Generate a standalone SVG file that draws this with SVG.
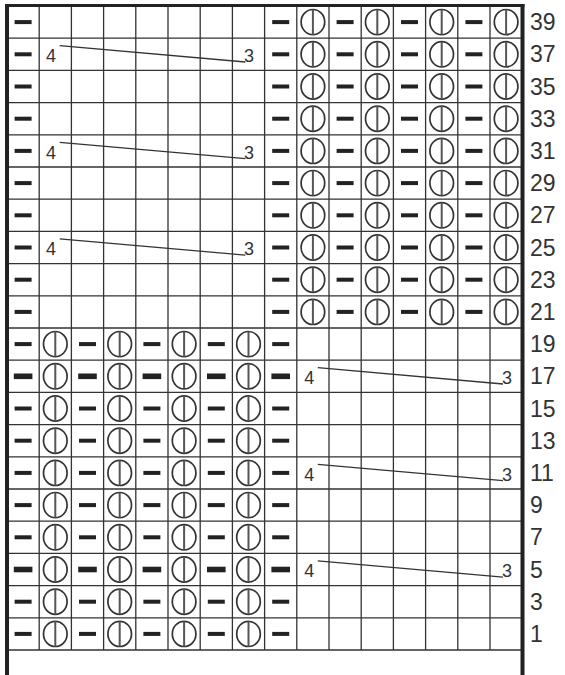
<svg xmlns="http://www.w3.org/2000/svg" xmlns:xlink="http://www.w3.org/1999/xlink" width="565" height="675" viewBox="0 0 565 675">
<style>
.grid{stroke:#333;stroke-width:1.3;fill:none}
.border{stroke:#222;fill:none}
.num{font-family:"Liberation Sans",Arial,sans-serif;font-size:23px;fill:#333}
.cn{font-family:"Liberation Sans",Arial,sans-serif;font-size:18px;fill:#333}
.cl{stroke:#333;stroke-width:1.3;fill:none}
</style>
<defs>
<rect id="p" x="-8.5" y="-2" width="17" height="4" fill="#222"/>
<rect id="pb" x="-9.3" y="-2.8" width="18.6" height="5.6" fill="#222"/>
<g id="t"><ellipse rx="11.8" ry="12.6" fill="none" stroke="#333" stroke-width="1.7"/><line x1="0" y1="-12.6" x2="0" y2="12.6" stroke="#555" stroke-width="2"/></g>
</defs>
<rect width="565" height="675" fill="#fff"/>
<g id="grid">
<path class="grid" d="M39.2 6V650M71.4 6V650M103.6 6V650M135.8 6V650M168 6V650M200.2 6V650M232.4 6V650M264.6 6V650M296.8 6V650M329 6V650M361.2 6V650M393.4 6V650M425.6 6V650M457.8 6V650M490 6V650
M7 38.2H522M7 70.4H522M7 102.6H522M7 134.8H522M7 167H522M7 199.2H522M7 231.4H522M7 263.6H522M7 295.8H522M7 328H522M7 360.2H522M7 392.4H522M7 424.6H522M7 456.8H522M7 489H522M7 521.2H522M7 553.4H522M7 585.6H522M7 617.8H522M7 650H522"/>
<path class="border" stroke-width="4" d="M7 4V675M522.5 4V675"/>
<path class="border" stroke-width="3" d="M5 5.5H524.5"/>
</g>
<g id="top-half">
<g id="r39"><use xlink:href="#p" x="23.1" y="22.1"/><use xlink:href="#p" x="280.7" y="22.1"/><use xlink:href="#t" x="312.9" y="22.1"/><use xlink:href="#p" x="345.1" y="22.1"/><use xlink:href="#t" x="377.3" y="22.1"/><use xlink:href="#p" x="409.5" y="22.1"/><use xlink:href="#t" x="441.7" y="22.1"/><use xlink:href="#p" x="473.9" y="22.1"/><use xlink:href="#t" x="506.1" y="22.1"/></g>
<g id="r37"><use xlink:href="#p" x="23.1" y="54.3"/><use xlink:href="#p" x="280.7" y="54.3"/><use xlink:href="#t" x="312.9" y="54.3"/><use xlink:href="#p" x="345.1" y="54.3"/><use xlink:href="#t" x="377.3" y="54.3"/><use xlink:href="#p" x="409.5" y="54.3"/><use xlink:href="#t" x="441.7" y="54.3"/><use xlink:href="#p" x="473.9" y="54.3"/><use xlink:href="#t" x="506.1" y="54.3"/></g>
<g id="r35"><use xlink:href="#p" x="23.1" y="86.5"/><use xlink:href="#p" x="280.7" y="86.5"/><use xlink:href="#t" x="312.9" y="86.5"/><use xlink:href="#p" x="345.1" y="86.5"/><use xlink:href="#t" x="377.3" y="86.5"/><use xlink:href="#p" x="409.5" y="86.5"/><use xlink:href="#t" x="441.7" y="86.5"/><use xlink:href="#p" x="473.9" y="86.5"/><use xlink:href="#t" x="506.1" y="86.5"/></g>
<g id="r33"><use xlink:href="#p" x="23.1" y="118.7"/><use xlink:href="#p" x="280.7" y="118.7"/><use xlink:href="#t" x="312.9" y="118.7"/><use xlink:href="#p" x="345.1" y="118.7"/><use xlink:href="#t" x="377.3" y="118.7"/><use xlink:href="#p" x="409.5" y="118.7"/><use xlink:href="#t" x="441.7" y="118.7"/><use xlink:href="#p" x="473.9" y="118.7"/><use xlink:href="#t" x="506.1" y="118.7"/></g>
<g id="r31"><use xlink:href="#p" x="23.1" y="150.9"/><use xlink:href="#p" x="280.7" y="150.9"/><use xlink:href="#t" x="312.9" y="150.9"/><use xlink:href="#p" x="345.1" y="150.9"/><use xlink:href="#t" x="377.3" y="150.9"/><use xlink:href="#p" x="409.5" y="150.9"/><use xlink:href="#t" x="441.7" y="150.9"/><use xlink:href="#p" x="473.9" y="150.9"/><use xlink:href="#t" x="506.1" y="150.9"/></g>
<g id="r29"><use xlink:href="#p" x="23.1" y="183.1"/><use xlink:href="#p" x="280.7" y="183.1"/><use xlink:href="#t" x="312.9" y="183.1"/><use xlink:href="#p" x="345.1" y="183.1"/><use xlink:href="#t" x="377.3" y="183.1"/><use xlink:href="#p" x="409.5" y="183.1"/><use xlink:href="#t" x="441.7" y="183.1"/><use xlink:href="#p" x="473.9" y="183.1"/><use xlink:href="#t" x="506.1" y="183.1"/></g>
<g id="r27"><use xlink:href="#p" x="23.1" y="215.3"/><use xlink:href="#p" x="280.7" y="215.3"/><use xlink:href="#t" x="312.9" y="215.3"/><use xlink:href="#p" x="345.1" y="215.3"/><use xlink:href="#t" x="377.3" y="215.3"/><use xlink:href="#p" x="409.5" y="215.3"/><use xlink:href="#t" x="441.7" y="215.3"/><use xlink:href="#p" x="473.9" y="215.3"/><use xlink:href="#t" x="506.1" y="215.3"/></g>
<g id="r25"><use xlink:href="#p" x="23.1" y="247.5"/><use xlink:href="#p" x="280.7" y="247.5"/><use xlink:href="#t" x="312.9" y="247.5"/><use xlink:href="#p" x="345.1" y="247.5"/><use xlink:href="#t" x="377.3" y="247.5"/><use xlink:href="#p" x="409.5" y="247.5"/><use xlink:href="#t" x="441.7" y="247.5"/><use xlink:href="#p" x="473.9" y="247.5"/><use xlink:href="#t" x="506.1" y="247.5"/></g>
<g id="r23"><use xlink:href="#p" x="23.1" y="279.7"/><use xlink:href="#p" x="280.7" y="279.7"/><use xlink:href="#t" x="312.9" y="279.7"/><use xlink:href="#p" x="345.1" y="279.7"/><use xlink:href="#t" x="377.3" y="279.7"/><use xlink:href="#p" x="409.5" y="279.7"/><use xlink:href="#t" x="441.7" y="279.7"/><use xlink:href="#p" x="473.9" y="279.7"/><use xlink:href="#t" x="506.1" y="279.7"/></g>
<g id="r21"><use xlink:href="#p" x="23.1" y="311.9"/><use xlink:href="#p" x="280.7" y="311.9"/><use xlink:href="#t" x="312.9" y="311.9"/><use xlink:href="#p" x="345.1" y="311.9"/><use xlink:href="#t" x="377.3" y="311.9"/><use xlink:href="#p" x="409.5" y="311.9"/><use xlink:href="#t" x="441.7" y="311.9"/><use xlink:href="#p" x="473.9" y="311.9"/><use xlink:href="#t" x="506.1" y="311.9"/></g>
</g>
<g id="bottom-half">
<g id="r19"><use xlink:href="#p" x="23.1" y="344.1"/><use xlink:href="#t" x="55.3" y="344.1"/><use xlink:href="#p" x="87.5" y="344.1"/><use xlink:href="#t" x="119.7" y="344.1"/><use xlink:href="#p" x="151.9" y="344.1"/><use xlink:href="#t" x="184.1" y="344.1"/><use xlink:href="#p" x="216.3" y="344.1"/><use xlink:href="#t" x="248.5" y="344.1"/><use xlink:href="#p" x="280.7" y="344.1"/></g>
<g id="r17"><use xlink:href="#pb" x="23.1" y="376.3"/><use xlink:href="#t" x="55.3" y="376.3"/><use xlink:href="#pb" x="87.5" y="376.3"/><use xlink:href="#t" x="119.7" y="376.3"/><use xlink:href="#pb" x="151.9" y="376.3"/><use xlink:href="#t" x="184.1" y="376.3"/><use xlink:href="#pb" x="216.3" y="376.3"/><use xlink:href="#t" x="248.5" y="376.3"/><use xlink:href="#pb" x="280.7" y="376.3"/></g>
<g id="r15"><use xlink:href="#p" x="23.1" y="408.5"/><use xlink:href="#t" x="55.3" y="408.5"/><use xlink:href="#p" x="87.5" y="408.5"/><use xlink:href="#t" x="119.7" y="408.5"/><use xlink:href="#p" x="151.9" y="408.5"/><use xlink:href="#t" x="184.1" y="408.5"/><use xlink:href="#p" x="216.3" y="408.5"/><use xlink:href="#t" x="248.5" y="408.5"/><use xlink:href="#p" x="280.7" y="408.5"/></g>
<g id="r13"><use xlink:href="#p" x="23.1" y="440.7"/><use xlink:href="#t" x="55.3" y="440.7"/><use xlink:href="#p" x="87.5" y="440.7"/><use xlink:href="#t" x="119.7" y="440.7"/><use xlink:href="#p" x="151.9" y="440.7"/><use xlink:href="#t" x="184.1" y="440.7"/><use xlink:href="#p" x="216.3" y="440.7"/><use xlink:href="#t" x="248.5" y="440.7"/><use xlink:href="#p" x="280.7" y="440.7"/></g>
<g id="r11"><use xlink:href="#p" x="23.1" y="472.9"/><use xlink:href="#t" x="55.3" y="472.9"/><use xlink:href="#p" x="87.5" y="472.9"/><use xlink:href="#t" x="119.7" y="472.9"/><use xlink:href="#p" x="151.9" y="472.9"/><use xlink:href="#t" x="184.1" y="472.9"/><use xlink:href="#p" x="216.3" y="472.9"/><use xlink:href="#t" x="248.5" y="472.9"/><use xlink:href="#p" x="280.7" y="472.9"/></g>
<g id="r9"><use xlink:href="#p" x="23.1" y="505.1"/><use xlink:href="#t" x="55.3" y="505.1"/><use xlink:href="#p" x="87.5" y="505.1"/><use xlink:href="#t" x="119.7" y="505.1"/><use xlink:href="#p" x="151.9" y="505.1"/><use xlink:href="#t" x="184.1" y="505.1"/><use xlink:href="#p" x="216.3" y="505.1"/><use xlink:href="#t" x="248.5" y="505.1"/><use xlink:href="#p" x="280.7" y="505.1"/></g>
<g id="r7"><use xlink:href="#p" x="23.1" y="537.3"/><use xlink:href="#t" x="55.3" y="537.3"/><use xlink:href="#p" x="87.5" y="537.3"/><use xlink:href="#t" x="119.7" y="537.3"/><use xlink:href="#p" x="151.9" y="537.3"/><use xlink:href="#t" x="184.1" y="537.3"/><use xlink:href="#p" x="216.3" y="537.3"/><use xlink:href="#t" x="248.5" y="537.3"/><use xlink:href="#p" x="280.7" y="537.3"/></g>
<g id="r5"><use xlink:href="#pb" x="23.1" y="569.5"/><use xlink:href="#t" x="55.3" y="569.5"/><use xlink:href="#pb" x="87.5" y="569.5"/><use xlink:href="#t" x="119.7" y="569.5"/><use xlink:href="#pb" x="151.9" y="569.5"/><use xlink:href="#t" x="184.1" y="569.5"/><use xlink:href="#pb" x="216.3" y="569.5"/><use xlink:href="#t" x="248.5" y="569.5"/><use xlink:href="#pb" x="280.7" y="569.5"/></g>
<g id="r3"><use xlink:href="#p" x="23.1" y="601.7"/><use xlink:href="#t" x="55.3" y="601.7"/><use xlink:href="#p" x="87.5" y="601.7"/><use xlink:href="#t" x="119.7" y="601.7"/><use xlink:href="#p" x="151.9" y="601.7"/><use xlink:href="#t" x="184.1" y="601.7"/><use xlink:href="#p" x="216.3" y="601.7"/><use xlink:href="#t" x="248.5" y="601.7"/><use xlink:href="#p" x="280.7" y="601.7"/></g>
<g id="r1"><use xlink:href="#p" x="23.1" y="633.9"/><use xlink:href="#t" x="55.3" y="633.9"/><use xlink:href="#p" x="87.5" y="633.9"/><use xlink:href="#t" x="119.7" y="633.9"/><use xlink:href="#p" x="151.9" y="633.9"/><use xlink:href="#t" x="184.1" y="633.9"/><use xlink:href="#p" x="216.3" y="633.9"/><use xlink:href="#t" x="248.5" y="633.9"/><use xlink:href="#p" x="280.7" y="633.9"/></g>
</g>
<g id="cables">
<g id="c37"><text class="cn" x="46" y="62">4</text><path class="cl" d="M59.7 45.7L245.4 62"/><text class="cn" x="243.9" y="62">3</text></g>
<g id="c31"><text class="cn" x="46" y="158.6">4</text><path class="cl" d="M59.7 142.3L245.4 158.6"/><text class="cn" x="243.9" y="158.6">3</text></g>
<g id="c25"><text class="cn" x="46" y="255.2">4</text><path class="cl" d="M59.7 238.9L245.4 255.2"/><text class="cn" x="243.9" y="255.2">3</text></g>
<g id="c17"><text class="cn" x="304.3" y="384">4</text><path class="cl" d="M317.8 367.7L503 384"/><text class="cn" x="502" y="384">3</text></g>
<g id="c11"><text class="cn" x="304.3" y="480.6">4</text><path class="cl" d="M317.8 464.3L503 480.6"/><text class="cn" x="502" y="480.6">3</text></g>
<g id="c5"><text class="cn" x="304.3" y="577.2">4</text><path class="cl" d="M317.8 560.9L503 577.2"/><text class="cn" x="502" y="577.2">3</text></g>
</g>
<g id="row-numbers" class="num">
<text x="530" y="30.2">39</text><text x="530" y="62.4">37</text><text x="530" y="94.6">35</text><text x="530" y="126.8">33</text><text x="530" y="159">31</text><text x="530" y="191.2">29</text><text x="530" y="223.4">27</text><text x="530" y="255.6">25</text><text x="530" y="287.8">23</text><text x="530" y="320">21</text><text x="530" y="352.2">19</text><text x="530" y="384.4">17</text><text x="530" y="416.6">15</text><text x="530" y="448.8">13</text><text x="530" y="481">11</text><text x="530" y="513.2">9</text><text x="530" y="545.4">7</text><text x="530" y="577.6">5</text><text x="530" y="609.8">3</text><text x="530" y="642">1</text>
</g>
</svg>
